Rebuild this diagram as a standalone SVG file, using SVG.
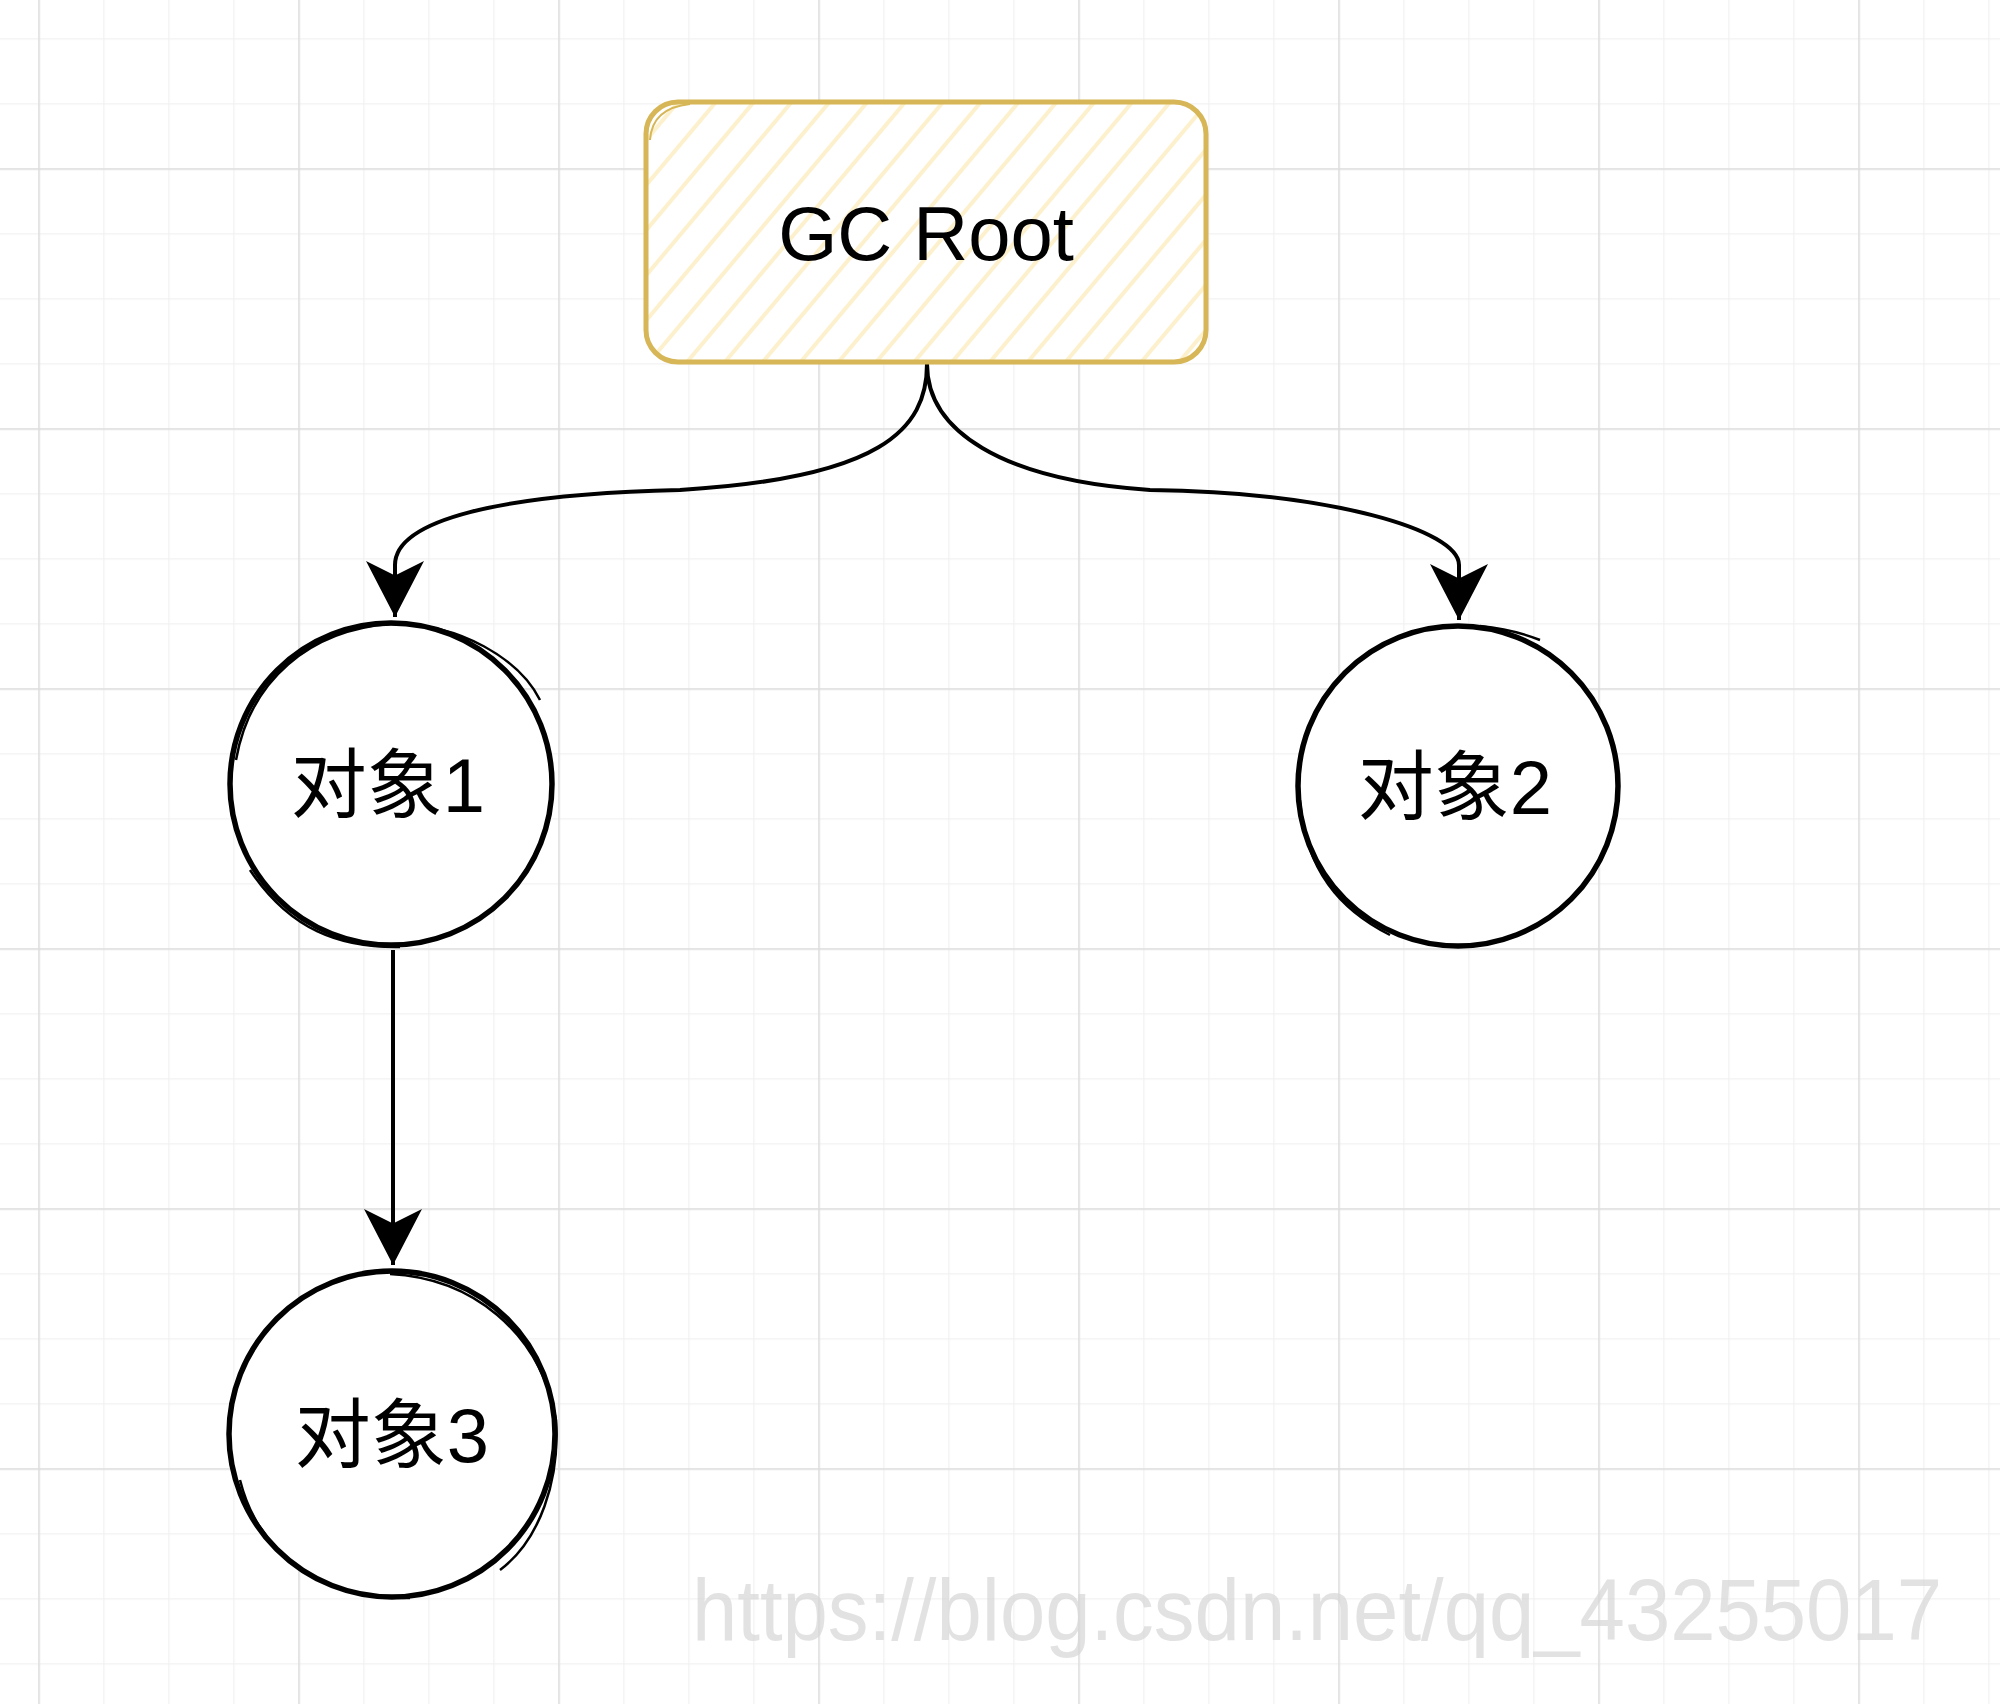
<svg xmlns="http://www.w3.org/2000/svg" width="2000" height="1704" viewBox="0 0 2000 1704">
<style>
.node-text{font-family:"Liberation Sans","Noto Sans CJK SC",sans-serif;font-size:76px;fill:#000;text-anchor:middle}
.circ{fill:#fff;stroke:#000;stroke-width:5.5}
.sketch{fill:none;stroke:#000;stroke-width:2.5}
.edge{fill:none;stroke:#000;stroke-width:4}
.wm{font-family:"Liberation Sans",Arial,sans-serif;font-size:88px;fill:#d6d6d6;fill-opacity:0.7}
</style>
<defs>
<pattern id="minor" patternUnits="userSpaceOnUse" x="38.3" y="38.3" width="65" height="65">
<path d="M0,0 V65 M0,0 H65" stroke="#f1f1f1" stroke-width="2.5" fill="none"/>
</pattern>
<pattern id="major" patternUnits="userSpaceOnUse" x="38.3" y="168.3" width="260" height="260">
<path d="M0,0 V260 M0,0 H260" stroke="#dddddd" stroke-width="3" fill="none"/>
</pattern>
<pattern id="hatch" patternUnits="userSpaceOnUse" width="29" height="29" patternTransform="rotate(40)">
<line x1="5" y1="0" x2="5" y2="29" stroke="#fdf0cc" stroke-width="4"/>
</pattern>
<marker id="arrow" markerUnits="userSpaceOnUse" markerWidth="58" markerHeight="58" viewBox="0 0 56 56" refX="54" refY="28" orient="auto">
<path d="M0,0 L54,28 L0,56 L14,28 Z" fill="#000"/>
</marker>
</defs>
<rect width="2000" height="1704" fill="#fff"/>
<rect width="2000" height="1704" fill="url(#minor)"/>
<rect width="2000" height="1704" fill="url(#major)"/>

<g id="edges">
<path class="edge" d="M927,364 C927,430 880,478 680,490 C500,494 395,520 395,565 L395,617" marker-end="url(#arrow)"/>
<path class="edge" d="M927,364 C927,430 1000,480 1150,490 C1330,492 1459,530 1459,565 L1459,620" marker-end="url(#arrow)"/>
<path class="edge" d="M393,950 L393,1265" marker-end="url(#arrow)"/>
</g>

<g id="gc-root">
<rect x="646" y="102" width="560" height="260" rx="32" ry="32" fill="#fff"/>
<rect x="646" y="102" width="560" height="260" rx="32" ry="32" fill="url(#hatch)" stroke="#d6b656" stroke-width="5"/>
<path d="M650,140 Q652,108 690,104" fill="none" stroke="#d6b656" stroke-width="2"/>
<text class="node-text" x="926" y="260">GC Root</text>
</g>

<g id="obj1">
<circle class="circ" cx="391" cy="784" r="161"/>
<path class="sketch" d="M236,760 C250,680 310,630 390,624 C460,622 520,660 540,700"/>
<path class="sketch" d="M250,870 C290,930 340,948 400,947"/>
<text class="node-text" x="388" y="812">对象1</text>
</g>

<g id="obj2">
<circle class="circ" cx="1458" cy="786" r="160"/>
<path class="sketch" d="M1300,800 C1305,870 1340,910 1390,935"/>
<path class="sketch" d="M1480,626 C1500,628 1520,632 1540,640"/>
<text class="node-text" x="1455" y="814">对象2</text>
</g>

<g id="obj3">
<circle class="circ" cx="392" cy="1434" r="163"/>
<path class="sketch" d="M390,1274 C470,1278 540,1330 556,1420 C560,1480 540,1540 500,1570"/>
<path class="sketch" d="M240,1480 C260,1560 330,1600 410,1598"/>
<text class="node-text" x="392" y="1462">对象3</text>
</g>

<text class="wm" x="692" y="1640" textLength="1250" lengthAdjust="spacingAndGlyphs">https://blog.csdn.net/qq_43255017</text>
</svg>
